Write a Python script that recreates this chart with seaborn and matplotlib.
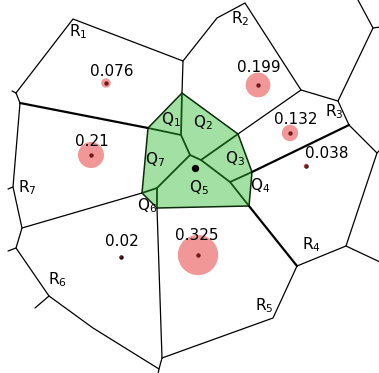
import matplotlib
matplotlib.use("Agg")
import matplotlib.pyplot as plt
import seaborn as sns
import pandas as pd
from matplotlib.patches import Polygon

sns.set_theme(style="white")
plt.rcParams["font.family"] = ["DejaVu Sans"]
plt.rcParams["mathtext.default"] = "regular"
plt.rcParams["text.color"] = "black"

# --- site values and their locations (canvas units, y grows downward) ---
site_x = [106, 91, 258, 290, 306, 121, 198]
site_y = [83, 155, 85, 133, 166, 257, 255]
site_val = [0.076, 0.21, 0.199, 0.132, 0.038, 0.02, 0.325]

# query point inside the highlighted block
query_x = [195]
query_y = [168]

# --- outer cell boundaries (polylines) ---
outer_edges = [
    [(12, 91), (16, 93)],
    [(16, 93), (73, 19), (183, 61), (217, 18), (245, 3), (301, 90), (338, 101),
     (349, 125), (377, 153), (346, 246), (297, 266), (273, 318), (162, 358)],
    [(338, 101), (373, 28), (358, 0)],
    [(373, 28), (380, 27)],
    [(377, 153), (380, 150)],
    [(346, 246), (380, 262)],
    [(16, 93), (20, 103), (13, 187), (22, 228), (16, 248), (49, 296), (93, 328),
     (159, 369), (162, 358)],
    [(13, 187), (8, 189)],
    [(16, 248), (8, 251)],
    [(49, 296), (35, 308)],
    [(159, 369), (158, 374)],
    [(183, 61), (182, 93)],
    [(301, 90), (238, 134)],
    [(22, 228), (142, 193)],
    [(157, 208), (162, 358)],
]
bold_edges = [
    [(20, 103), (148, 128)],
    [(349, 125), (252, 172)],
    [(249, 206), (297, 266)],
]

# --- highlighted block and its sub-cells ---
block_outline = [(182, 93), (238, 134), (252, 172), (249, 206), (157, 208),
                 (142, 193), (148, 128)]
inner_edges = [
    [(182, 93), (181, 135)],
    [(148, 128), (181, 135), (190, 155)],
    [(238, 134), (201, 160)],
    [(190, 155), (201, 160), (230, 182), (249, 206)],
    [(230, 182), (252, 172)],
    [(190, 155), (157, 188), (142, 193)],
    [(157, 188), (157, 208)],
]

# --- labels ---
r_labels = ["R$_1$", "R$_2$", "R$_3$", "R$_4$", "R$_5$", "R$_6$", "R$_7$"]
r_label_pos = [(78, 32), (240, 19), (334, 112), (311, 245), (264, 306), (57, 280), (27, 188)]
q_labels = ["Q$_1$", "Q$_2$", "Q$_3$", "Q$_4$", "Q$_5$", "Q$_6$", "Q$_7$"]
q_label_pos = [(171, 120), (203, 123), (235, 159), (260, 186), (199, 188), (147, 206), (155, 160)]
val_label_pos = [(112, 71), (92, 141), (259, 68), (296, 120), (327, 154), (122, 241), (197, 236)]

fig = plt.figure(figsize=(3.79, 3.73), dpi=100)
ax = fig.add_axes([0, 0, 1, 1])

# highlighted block fill
ax.add_patch(Polygon(block_outline, closed=True, facecolor="#a3e0a3",
                     edgecolor="#0d2a0d", linewidth=1.1, zorder=1))
for line in inner_edges:
    xs, ys = zip(*line)
    ax.plot(xs, ys, color="#145214", linewidth=1.3, zorder=2)

for line in outer_edges:
    xs, ys = zip(*line)
    ax.plot(xs, ys, color="black", linewidth=0.9, zorder=2)
for line in bold_edges:
    xs, ys = zip(*line)
    ax.plot(xs, ys, color="black", linewidth=1.6, zorder=2)

df = pd.DataFrame({"x": site_x, "y": site_y, "v": site_val})
# black site markers
sns.scatterplot(data=df, x="x", y="y", color="black", s=10, linewidth=0,
                ax=ax, zorder=3, legend=False)
# value-scaled halos (radius proportional to the value)
halo_sizes = {v: (2 * 62 * v * 0.72) ** 2 for v in site_val}
sns.scatterplot(data=df, x="x", y="y", size="v", sizes=halo_sizes,
                color="#e53030", alpha=0.5, linewidth=0, ax=ax, zorder=4,
                legend=False)
sns.scatterplot(x=query_x, y=query_y, color="black", s=28, linewidth=0,
                ax=ax, zorder=5, legend=False)

for (x, y), t in zip(val_label_pos, site_val):
    ax.text(x, y, f"{t:g}", fontsize=11, color="black", ha="center", va="center", zorder=6)
for (x, y), t in zip(r_label_pos, r_labels):
    ax.text(x, y, t, fontsize=11, color="black", ha="center", va="center", zorder=6)
for (x, y), t in zip(q_label_pos, q_labels):
    ax.text(x, y, t, fontsize=11, color="black", ha="center", va="center", zorder=6)

ax.set_xlim(0, 379)
ax.set_ylim(373, 0)
ax.set_xlabel("")
ax.set_ylabel("")
ax.axis("off")

fig.savefig("out.png", dpi=100)
